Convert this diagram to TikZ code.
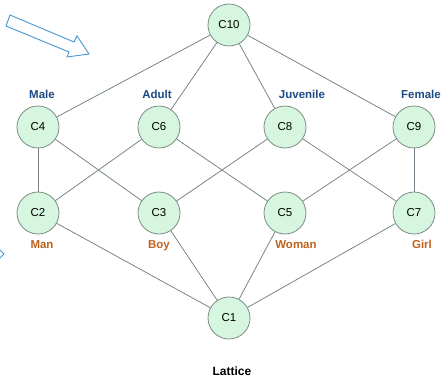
\documentclass[tikz,border=0pt]{standalone}
\usepackage{fontspec}
\setmainfont{Liberation Sans}
\definecolor{nodefill}{RGB}{214,246,224}
\definecolor{nodeline}{RGB}{125,140,132}
\definecolor{edgecol}{RGB}{120,132,140}
\definecolor{labblue}{RGB}{28,74,132}
\definecolor{laborange}{RGB}{190,98,30}
\definecolor{arrowblue}{RGB}{70,150,210}
\begin{document}
\begin{tikzpicture}[x=1pt,y=-1pt,
  cnode/.style={circle,draw=nodeline,fill=nodefill,line width=0.8pt,minimum size=42pt,inner sep=0pt,font=\fontsize{11.5}{14}\selectfont},
  edge/.style={draw=edgecol,line width=0.8pt},
  lab/.style={font=\bfseries\fontsize{11.5}{13}\selectfont,text height=8.5pt,text depth=2.5pt},
  toplab/.style={lab,text=labblue},
  botlab/.style={lab,text=laborange}]
\useasboundingbox (0,0) rectangle (443,377);
% block arrow
\draw[arrowblue,line width=0.9pt,line join=miter] (10,15) -- (74,42) -- (77,36) -- (89,54) -- (67,57) -- (69,52) -- (6,26) -- cycle;
\draw[arrowblue,line width=0.9pt] (0,250) -- (4,254) -- (0,258);
% nodes
\node[cnode] (c10) at (229,25) {C10};
\node[cnode] (c4) at (38,127) {C4};
\node[cnode] (c6) at (159,127) {C6};
\node[cnode] (c8) at (285,127) {C8};
\node[cnode] (c9) at (414,127) {C9};
\node[cnode] (c2) at (38,213) {C2};
\node[cnode] (c3) at (159,213) {C3};
\node[cnode] (c5) at (285,213) {C5};
\node[cnode] (c7) at (414,213) {C7};
\node[cnode] (c1) at (229,318) {C1};
% edges
\foreach \a/\b in {c10/c4,c10/c6,c10/c8,c10/c9,c4/c2,c4/c3,c6/c2,c6/c5,c8/c3,c8/c7,c9/c5,c9/c7,c1/c2,c1/c3,c1/c5,c1/c7}
  \draw[edge] (\a) -- (\b);
% labels
\node[toplab] (lmale) at (42,96) {Male};
\node[toplab] (ladult) at (157,96) {Adult};
\node[toplab] (ljuv) at (302,96) {Juvenile};
\node[toplab] (lfem) at (421,96) {Female};
\node[botlab] (lman) at (42,245) {Man};
\node[botlab] (lboy) at (159,245) {Boy};
\node[botlab] (lwoman) at (296,245) {Woman};
\node[botlab] (lgirl) at (422,245) {Girl};
\node[font=\bfseries\fontsize{12}{14}\selectfont] (title) at (232,371) {Lattice};
\end{tikzpicture}
\end{document}
